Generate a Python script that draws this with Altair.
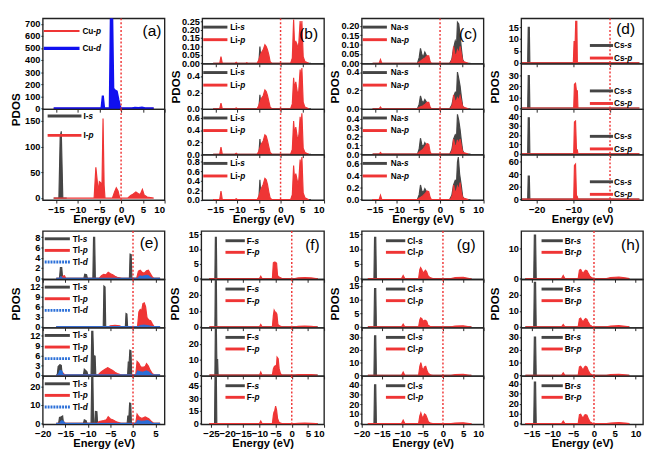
import altair as alt
import pandas as pd

FONT = "Liberation Sans"
GRAY = "#454545"
RED = "#ef3535"
BLUE = "#1010f0"
TLBLUE = "#2a6fd8"

FERMI = [0.0]

# ---------------- (a) CuI ----------------
A1_CU_P = [(-15.5,0),(-2.6,0),(-2.2,4),(-1.5,3),(-0.8,2),(0,0),(7.5,0)]
A1_CU_D = [(-15.5,0),(-4.5,0),(-4.2,105),(-3.9,0),(-2.6,0),(-2.35,780),(-2.05,780),(-1.8,165),(-1.5,150),
           (-1.0,140),(-0.6,70),(-0.25,15),(0,0),(2.5,0),(3.2,5),(4,2),(4.8,6),(5.5,0),(7.5,0)]
A2_I_S = [(-15.5,0),(-14.3,0),(-14.0,120),(-13.75,130),(-13.4,0),(-12.5,0)]
A2_I_P = [(-15.5,0),(-6.2,0),(-5.8,60),(-5.5,35),(-5.25,12),(-5.0,32),(-4.7,30),(-4.4,22),(-4.15,155),(-3.9,25),
          (-3.7,0),(-2.0,0),(-1.5,12),(-1.1,20),(-0.7,14),(-0.3,0),(1.5,0),(2.2,5),(2.8,8),(3.4,12),(3.9,9),
          (4.4,7),(4.9,17),(5.3,6),(6.0,2),(7.5,0)]
A1_YTICKS = [0,100,200,300,400,500,600,700]
A2_YTICKS = [0,50,100,150]

# ---------------- (b) Li ----------------
B1_S = [(-15.5,0),(-5.0,0),(-4.75,0.10),(-4.5,0.02),(-4.0,0.02),(-3.6,0.035),(-3.2,0.04),(-2.8,0.01),(-2.4,0),
        (2.5,0),(3.0,0.05),(3.5,0.12),(3.8,0.05),(4.3,0.12),(4.6,0.05),(5.0,0),(7,0)]
B1_P = [(-15.5,0),(-14.0,0),(-13.7,0.04),(-13.4,0),(-10.5,0),(-10.2,0.006),(-9.9,0),(-8,0),(-7.8,0.004),(-7.5,0),
        (-5.4,0),(-5.0,0.02),(-4.5,0.06),(-4.0,0.08),(-3.6,0.11),(-3.3,0.10),(-3.0,0.08),(-2.7,0.05),(-2.4,0.01),
        (-2.0,0),(2.3,0),(2.7,0.03),(3.0,0.26),(3.2,0.12),(3.5,0.13),(3.8,0.11),(4.1,0.08),(4.5,0.25),(4.7,0.18),
        (4.9,0.25),(5.2,0.04),(5.6,0.01),(6.5,0)]
B2_S = [(-15.5,0),(-5.0,0),(-4.75,0.17),(-4.5,0.03),(-4.0,0.04),(-3.6,0.06),(-3.2,0.08),(-2.8,0.02),(-2.4,0),
        (2.5,0),(3.0,0.08),(3.5,0.20),(3.8,0.08),(4.3,0.22),(4.6,0.08),(5.0,0),(7,0)]
B2_P = [(-15.5,0),(-14.0,0),(-13.7,0.07),(-13.4,0),(-10.5,0),(-10.2,0.01),(-9.9,0),(-5.4,0),(-5.0,0.04),
        (-4.5,0.12),(-4.0,0.16),(-3.6,0.23),(-3.3,0.21),(-3.0,0.16),(-2.7,0.09),(-2.4,0.02),(-2.0,0),(2.3,0),
        (2.7,0.06),(3.0,0.38),(3.2,0.25),(3.5,0.33),(3.8,0.22),(4.1,0.15),(4.5,0.48),(4.7,0.35),(4.9,0.50),
        (5.2,0.08),(5.6,0.02),(6.5,0)]
B3_S = [(-15.5,0),(-5.0,0),(-4.75,0.25),(-4.5,0.04),(-4.0,0.05),(-3.6,0.09),(-3.2,0.12),(-2.8,0.03),(-2.4,0),
        (2.5,0),(3.0,0.12),(3.5,0.30),(3.8,0.12),(4.3,0.32),(4.6,0.12),(5.0,0),(7,0)]
B3_P = [(-15.5,0),(-14.0,0),(-13.7,0.12),(-13.4,0),(-10.5,0),(-10.2,0.015),(-9.9,0),(-5.4,0),(-5.0,0.05),
        (-4.5,0.16),(-4.0,0.22),(-3.6,0.32),(-3.3,0.30),(-3.0,0.22),(-2.7,0.12),(-2.4,0.03),(-2.0,0),(2.3,0),
        (2.7,0.08),(3.0,0.55),(3.2,0.35),(3.5,0.45),(3.8,0.30),(4.1,0.20),(4.5,0.62),(4.7,0.45),(4.9,0.68),
        (5.2,0.10),(5.6,0.03),(6.5,0)]
B4_S = [(-15.5,0),(-5.0,0),(-4.75,0.42),(-4.5,0.06),(-4.0,0.08),(-3.6,0.14),(-3.2,0.20),(-2.8,0.05),(-2.4,0),
        (2.5,0),(3.0,0.18),(3.5,0.40),(3.8,0.16),(4.3,0.42),(4.6,0.16),(5.0,0),(7,0)]
B4_P = [(-15.5,0),(-14.0,0),(-13.7,0.18),(-13.4,0),(-10.5,0),(-10.2,0.02),(-9.9,0),(-5.4,0),(-5.0,0.07),
        (-4.5,0.22),(-4.0,0.32),(-3.6,0.45),(-3.3,0.42),(-3.0,0.32),(-2.7,0.16),(-2.4,0.04),(-2.0,0),(2.3,0),
        (2.7,0.10),(3.0,0.72),(3.2,0.45),(3.5,0.55),(3.8,0.42),(4.1,0.28),(4.5,0.85),(4.7,0.60),(4.9,0.90),
        (5.2,0.14),(5.6,0.04),(6.5,0)]
B1_YTICKS = [0.0,0.05,0.10,0.15,0.20,0.25]
B2_YTICKS = [0.0,0.2,0.4]
B3_YTICKS = [0.0,0.2,0.4,0.6]
B4_YTICKS = [0.0,0.2,0.4,0.6,0.8]

# ---------------- (c) Na ----------------
C1_S = [(-15.5,0),(-5.2,0),(-4.8,0.03),(-4.5,0.08),(-4.2,0.05),(-3.9,0.03),(-3.5,0.06),(-3.1,0.04),(-2.7,0.02),
        (-2.3,0),(2.2,0),(2.7,0.02),(3.1,0.08),(3.5,0.12),(3.8,0.10),(4.0,0.22),(4.3,0.21),(4.6,0.15),(4.9,0.08),
        (5.2,0.02),(5.6,0),(7,0)]
C1_P = [(-15.5,0),(-14.0,0),(-13.7,0.02),(-13.4,0),(-5.2,0),(-4.6,0.01),(-4.0,0.02),(-3.4,0.03),(-3.0,0.04),
        (-2.6,0.04),(-2.3,0.01),(-2.0,0),(2.4,0),(2.9,0.03),(3.1,0.09),(3.4,0.05),(3.7,0.04),(4.0,0.07),(4.3,0.05),
        (4.6,0.09),(4.9,0.05),(5.2,0.01),(6.5,0)]
C2_S = [(-15.5,0),(-5.2,0),(-4.8,0.05),(-4.5,0.14),(-4.2,0.09),(-3.9,0.06),(-3.5,0.10),(-3.1,0.07),(-2.7,0.03),
        (-2.3,0),(2.2,0),(2.7,0.04),(3.1,0.13),(3.5,0.18),(3.8,0.16),(4.0,0.40),(4.3,0.33),(4.6,0.25),(4.9,0.13),
        (5.2,0.03),(5.6,0),(7,0)]
C2_P = [(-15.5,0),(-14.0,0),(-13.7,0.02),(-13.4,0),(-5.2,0),(-4.6,0.02),(-4.0,0.03),(-3.4,0.05),(-3.0,0.07),
        (-2.6,0.07),(-2.3,0.02),(-2.0,0),(2.4,0),(2.9,0.05),(3.1,0.15),(3.4,0.09),(3.7,0.08),(4.0,0.12),(4.3,0.09),
        (4.6,0.14),(4.9,0.08),(5.2,0.02),(6.5,0)]
C3_S = [(-15.5,0),(-5.2,0),(-4.8,0.06),(-4.5,0.18),(-4.2,0.11),(-3.9,0.08),(-3.5,0.13),(-3.1,0.09),(-2.7,0.04),
        (-2.3,0),(2.2,0),(2.7,0.05),(3.1,0.17),(3.5,0.22),(3.8,0.20),(4.0,0.45),(4.3,0.38),(4.6,0.28),(4.9,0.15),
        (5.2,0.04),(5.6,0),(7,0)]
C3_P = [(-15.5,0),(-14.0,0),(-13.7,0.02),(-13.4,0),(-5.2,0),(-4.6,0.03),(-4.0,0.05),(-3.4,0.09),(-3.0,0.12),
        (-2.6,0.11),(-2.3,0.03),(-2.0,0),(2.4,0),(2.9,0.06),(3.1,0.17),(3.4,0.10),(3.7,0.09),(4.0,0.16),(4.3,0.11),
        (4.6,0.17),(4.9,0.09),(5.2,0.02),(6.5,0)]
C4_S = [(-15.5,0),(-5.2,0),(-4.8,0.08),(-4.5,0.24),(-4.2,0.15),(-3.9,0.11),(-3.5,0.18),(-3.1,0.13),(-2.7,0.05),
        (-2.3,0),(2.2,0),(2.7,0.07),(3.1,0.24),(3.5,0.32),(3.8,0.30),(4.0,0.62),(4.2,0.70),(4.5,0.42),(4.9,0.22),
        (5.2,0.05),(5.6,0),(7,0)]
C4_P = [(-15.5,0),(-14.0,0),(-13.7,0.07),(-13.4,0),(-5.2,0),(-4.6,0.03),(-4.0,0.06),(-3.4,0.10),(-3.0,0.14),
        (-2.6,0.13),(-2.3,0.04),(-2.0,0),(2.4,0),(2.9,0.08),(3.1,0.24),(3.4,0.14),(3.7,0.13),(4.0,0.22),(4.3,0.16),
        (4.6,0.28),(4.9,0.12),(5.2,0.03),(6.5,0)]
C1_YTICKS = [0.0,0.05,0.10,0.15,0.20]
C2_YTICKS = [0.0,0.2,0.4]
C3_YTICKS = [0.0,0.1,0.2,0.3,0.4]
C4_YTICKS = [0.0,0.2,0.4,0.6]

# ---------------- (d) Cs ----------------
D1_S = [(-24,0),(-22.45,0),(-22.3,15),(-22.0,15),(-21.85,0),(8,0)]
D1_P = [(-24,0),(-10.0,0),(-9.8,9),(-9.5,9),(-9.35,17.5),(-9.05,17.5),(-8.9,0),(8,0)]
D2_S = [(-24,0),(-22.45,0),(-22.3,30),(-22.0,30),(-21.85,0),(8,0)]
D2_P = [(-24,0),(-9.9,0),(-9.7,22),(-9.4,23),(-9.15,16),(-8.9,16),(-8.75,0),(8,0)]
D3_S = [(-24,0),(-22.45,0),(-22.3,38.5),(-22.0,38.5),(-21.85,0),(8,0)]
D3_P = [(-24,0),(-9.9,0),(-9.7,34),(-9.4,35),(-9.15,5),(-8.9,4),(-8.75,0),(8,0)]
D4_S = [(-24,0),(-22.45,0),(-22.3,37),(-22.0,37),(-21.85,0),(8,0)]
D4_P = [(-24,0),(-9.9,0),(-9.7,54),(-9.4,56),(-9.15,6),(-8.9,4),(-8.75,0),(8,0)]
D1_YTICKS = [0,5,10,15]
D2_YTICKS = [0,10,20,30]
D3_YTICKS = [0,10,20,30,40]
D4_YTICKS = [0,20,40,60]

# ---------------- (e) Tl ----------------
E1_S = [(-17,0),(-16.3,0),(-16.1,2.1),(-15.8,2.1),(-15.6,0),(-10.9,0),(-10.7,0.8),(-10.3,0.7),(-10.1,0),
        (-8.9,0),(-8.75,8),(-8.5,8),(-8.35,0),(-0.8,0),(-0.65,4.7),(-0.4,4.6),(-0.25,0),(6,0)]
E1_P = [(-17,0),(-16.0,0),(-15.6,0.4),(-15.2,0.5),(-14.9,0),(-7.5,0),(-7.0,0.5),(-6.5,0.8),(-6.0,0.7),(-5.5,1.2),
        (-5.0,0.9),(-4.5,0.7),(-4.0,0.4),(-3.5,0.2),(-2.5,0),(0.8,0),(1.2,1.4),(1.6,1.6),(2.0,1.2),(2.5,1.0),
        (3.0,1.5),(3.4,1.6),(3.8,1.0),(4.2,0.4),(4.6,0),(6,0)]
E1_D = [(-17,0),(-16.3,0),(-16.0,0.4),(-15.6,0),(1.0,0),(1.5,0.5),(2.0,0.4),(3.0,0.6),(3.5,0.5),(4.2,0),(6,0)]
E2_S = [(-17,0),(-6.6,0),(-6.45,12.3),(-6.2,12.0),(-6.05,0),(-1.7,0),(-1.55,4.0),(-1.35,3.8),(-1.2,0),(6,0)]
E2_P = [(-17,0),(-5.5,0),(-5.0,0.3),(-4.0,0.4),(-3.0,0.3),(-2.5,0),(1.0,0),(1.3,4.5),(1.6,5.2),(1.9,4.8),
        (2.2,7.0),(2.5,7.2),(2.8,6.0),(3.1,2.8),(3.5,2.0),(3.9,1.8),(4.3,0.8),(4.7,0),(6,0)]
E2_D = [(-17,0),(1.2,0),(1.6,0.4),(2.5,0.5),(3.5,0.3),(4.4,0),(6,0)]
E3_S = [(-17,0),(-16.8,0),(-16.6,2.6),(-16.2,3.2),(-15.9,3.0),(-15.7,0),(-11.0,0),(-10.8,1.8),(-10.5,1.4),
        (-10.2,1.0),(-10.0,0),(-9.3,0),(-9.15,13.4),(-8.9,13.4),(-8.75,6.0),(-8.4,5.8),(-8.25,0),(-1.2,0),
        (-1.05,4.0),(-0.85,4.0),(-0.7,7.6),(-0.45,7.4),(-0.3,0),(6,0)]
E3_P = [(-17,0),(-16.3,0),(-15.9,0.8),(-15.5,0.6),(-15.1,0),(-7.8,0),(-7.2,0.8),(-6.7,1.3),(-6.2,1.8),(-5.6,2.3),
        (-5.0,1.8),(-4.5,1.4),(-4.0,0.9),(-3.5,0.5),(-2.5,0),(0.6,0),(0.9,4.2),(1.3,3.6),(1.7,2.5),(2.2,2.4),
        (2.7,2.6),(3.0,3.5),(3.4,2.8),(3.8,1.5),(4.3,0.4),(4.8,0),(6,0)]
E3_D = [(-17,0),(-16.6,0),(-16.2,1.5),(-15.8,1.3),(-15.4,0),(0.7,0),(1.0,1.3),(1.6,1.0),(2.2,0.9),(3.0,1.3),
        (3.6,0.9),(4.4,0),(6,0)]
E4_S = [(-17,0),(-16.5,0),(-16.3,3.2),(-15.9,3.6),(-15.6,4.0),(-15.4,0),(-11.0,0),(-10.8,2.0),(-10.4,1.5),
        (-10.2,0),(-9.3,0),(-9.15,25.5),(-8.9,25.5),(-8.75,0),(-8.5,0),(-8.35,6.5),(-8.0,6.3),(-7.85,0),
        (-1.3,0),(-1.15,4.0),(-0.9,4.0),(-0.75,11.0),(-0.5,10.8),(-0.35,0),(6,0)]
E4_P = [(-17,0),(-16.2,0),(-15.8,1.0),(-15.3,0.8),(-15.0,0),(-8.0,0),(-7.5,1.0),(-7.0,1.3),(-6.5,1.6),(-5.9,2.0),
        (-5.5,3.6),(-5.0,2.4),(-4.5,2.0),(-4.0,1.3),(-3.5,0.7),(-2.5,0),(0.6,0),(0.9,5.0),(1.3,3.6),(1.8,2.8),
        (2.3,3.0),(2.7,3.5),(3.1,3.0),(3.5,2.6),(3.9,1.5),(4.4,0.4),(4.8,0),(6,0)]
E4_D = [(-17,0),(-16.3,0),(-15.9,1.5),(-15.4,1.2),(-15.0,0),(0.7,0),(1.0,1.6),(1.8,1.2),(2.6,1.3),(3.2,1.6),
        (3.8,1.0),(4.4,0),(6,0)]
E1_YTICKS = [0,2,4,6,8]
E2_YTICKS = [0,3,6,9,12]
E3_YTICKS = [0,3,6,9,12]
E4_YTICKS = [0,10,20]

# ---------------- (f) F ----------------
F1_S = [(-25.5,0),(-23.8,0),(-23.65,14),(-23.35,14),(-23.2,0),(8,0)]
F2_S = [(-25.5,0),(-23.8,0),(-23.65,32),(-23.35,32),(-23.2,0),(8,0)]
F3_S = [(-25.5,0),(-23.8,0),(-23.65,32),(-23.35,32),(-23.2,10),(-22.95,10),(-22.8,0),(8,0)]
F4_S = [(-25.5,0),(-23.9,0),(-23.75,60),(-23.35,60),(-23.2,0),(8,0)]
F1_P = [(-25.5,0),(-10.0,0),(-9.6,0.8),(-9.2,0),(-6.0,0),(-5.7,5.3),(-5.4,5.6),(-5.0,5.5),(-4.7,5.2),(-4.4,1.0),
        (-3.8,0.4),(-3.0,0),(1.0,0),(2.0,0.2),(4.0,0.3),(6.0,0.2),(7.5,0),(8,0)]
F2_P = [(-25.5,0),(-10.0,0),(-9.6,1.5),(-9.2,0),(-6.0,0),(-5.7,7.0),(-5.45,10.5),(-5.2,9.5),(-4.9,9.0),
        (-4.6,8.0),(-4.3,1.5),(-3.8,0.6),(-3.0,0),(1.0,0),(2.0,0.3),(4.0,0.4),(6.0,0.3),(7.5,0),(8,0)]
F3_P = [(-25.5,0),(-10.0,0),(-9.6,2.0),(-9.2,0),(-6.0,0),(-5.7,4.0),(-5.4,5.5),(-5.1,6.0),(-4.8,4.0),
        (-4.55,11.5),(-4.2,10.5),(-3.9,4.0),(-3.5,1.0),(-3.0,0),(1.0,0),(2.0,0.3),(4.0,0.4),(6.0,0.3),(7.5,0),(8,0)]
F4_P = [(-25.5,0),(-10.0,0),(-9.6,3.0),(-9.2,0),(-6.0,0),(-5.7,10.0),(-5.5,14.0),(-5.3,15.0),(-5.0,21.0),
        (-4.7,16.0),(-4.4,6.0),(-4.0,2.0),(-3.5,0.5),(-3.0,0),(1.0,0),(2.0,0.4),(4.0,0.6),(6.0,0.4),(7.5,0),(8,0)]
F1_YTICKS = [0,5,10,15]
F2_YTICKS = [0,10,20]
F3_YTICKS = [0,10,20]
F4_YTICKS = [0,15,30,45]

# ---------------- (g) Cl ----------------
G1_S = [(-18.5,0),(-17.0,0),(-16.85,14),(-16.55,14),(-16.4,0),(7,0)]
G2_S = [(-18.5,0),(-17.0,0),(-16.85,14),(-16.55,14),(-16.4,0),(7,0)]
G3_S = [(-18.5,0),(-17.0,0),(-16.85,31),(-16.55,31),(-16.4,0),(7,0)]
G4_S = [(-18.5,0),(-17.0,0),(-16.85,40),(-16.55,40),(-16.4,0),(7,0)]
G1_P = [(-18.5,0),(-10.2,0),(-9.8,1.0),(-9.4,0),(-6.0,0),(-5.7,3.0),(-5.5,3.7),(-5.2,3.0),(-4.9,1.8),(-4.6,2.3),
        (-4.3,2.8),(-4.0,2.2),(-3.7,1.0),(-3.2,0.3),(-2.5,0),(2,0),(3,0.3),(5,0.4),(6.5,0),(7,0)]
G2_P = [(-18.5,0),(-10.2,0),(-9.8,1.0),(-9.4,0),(-6.0,0),(-5.7,2.6),(-5.5,3.3),(-5.2,3.0),(-4.9,2.0),(-4.6,2.4),
        (-4.3,2.4),(-4.0,2.0),(-3.7,0.6),(-3.2,0.2),(-2.5,0),(2,0),(3,0.3),(5,0.4),(6.5,0),(7,0)]
G3_P = [(-18.5,0),(-10.2,0),(-9.8,2.5),(-9.4,0),(-6.0,0),(-5.7,7.0),(-5.45,10.0),(-5.15,6.0),(-4.85,4.0),
        (-4.55,6.5),(-4.25,7.0),(-3.95,4.0),(-3.6,1.5),(-3.1,0.4),(-2.5,0),(2,0),(3,0.5),(5,0.7),(6.5,0),(7,0)]
G4_P = [(-18.5,0),(-10.2,0),(-9.8,3.5),(-9.4,0),(-6.0,0),(-5.7,8.0),(-5.45,11.0),(-5.15,7.0),(-4.85,6.0),
        (-4.55,10.0),(-4.25,9.0),(-3.95,6.0),(-3.6,2.0),(-3.1,0.5),(-2.5,0),(2,0),(3,0.6),(5,0.9),(6.5,0),(7,0)]
G1_YTICKS = [0,5,10,15]
G2_YTICKS = [0,5,10,15]
G3_YTICKS = [0,10,20,30]
G4_YTICKS = [0,10,20,30,40]

# ---------------- (h) Br ----------------
H1_S = [(-16.5,0),(-14.5,0),(-14.35,14.5),(-14.05,14.5),(-13.9,0),(8.5,0)]
H2_S = [(-16.5,0),(-14.5,0),(-14.35,28),(-14.05,28),(-13.9,0),(8.5,0)]
H3_S = [(-16.5,0),(-14.5,0),(-14.35,30),(-14.05,30),(-13.9,0),(8.5,0)]
H4_S = [(-16.5,0),(-14.5,0),(-14.35,42),(-14.05,42),(-13.9,0),(8.5,0)]
H1_P = [(-16.5,0),(-7.8,0),(-7.4,1.0),(-7.0,0),(-3.8,0),(-3.5,2.8),(-3.2,3.0),(-2.9,2.2),(-2.6,1.6),(-2.3,2.4),
        (-2.0,2.8),(-1.7,2.6),(-1.4,1.8),(-1.0,0.8),(-0.5,0.2),(0,0),(3,0),(4,0.3),(6,0.5),(7.5,0.2),(8.5,0)]
H2_P = [(-16.5,0),(-7.8,0),(-7.4,1.5),(-7.0,0),(-3.8,0),(-3.5,5.0),(-3.2,5.5),(-2.9,4.0),(-2.6,3.0),(-2.3,4.5),
        (-2.0,5.2),(-1.7,4.6),(-1.4,3.0),(-1.0,1.2),(-0.5,0.3),(0,0),(3,0),(4,0.4),(6,0.7),(7.5,0.3),(8.5,0)]
H3_P = [(-16.5,0),(-7.8,0),(-7.4,2.0),(-7.0,0),(-3.8,0),(-3.5,6.5),(-3.2,7.0),(-2.9,5.5),(-2.6,4.0),(-2.3,6.5),
        (-2.0,7.2),(-1.7,6.5),(-1.4,4.0),(-1.0,1.5),(-0.5,0.4),(0,0),(3,0),(4,0.5),(6,0.8),(7.5,0.3),(8.5,0)]
H4_P = [(-16.5,0),(-7.8,0),(-7.4,2.5),(-7.0,0),(-3.8,0),(-3.5,9.0),(-3.2,9.5),(-2.9,7.0),(-2.6,5.5),(-2.3,8.5),
        (-2.0,9.0),(-1.7,8.5),(-1.4,5.5),(-1.0,2.0),(-0.5,0.5),(0,0),(3,0),(4,0.6),(6,1.0),(7.5,0.4),(8.5,0)]
H1_YTICKS = [0,10]
H2_YTICKS = [0,10,20]
H3_YTICKS = [0,10,20,30]
H4_YTICKS = [0,10,20,30,40]

# x tick labels
X_TICKS_ABC = [-15,-10,-5,0,5,10]
X_TICKS_D = [-20,-10,0]
X_TICKS_E = [-20,-15,-10,-5,0,5]
X_TICKS_F = [-25,-20,-15,-10,-5,0,5,10]
X_TICKS_G = [-20,-15,-10,-5,0,5,10]
X_TICKS_H = [-15,-10,-5,0,5,10]

# legend names (prefix, italic suffix)
LEG_A1 = [("Cu-","p"),("Cu-","d")]
LEG_A2 = [("I-","s"),("I-","p")]
LEG_B = [("Li-","s"),("Li-","p")]
LEG_C = [("Na-","s"),("Na-","p")]
LEG_D = [("Cs-","s"),("Cs-","p")]
LEG_E = [("Tl-","s"),("Tl-","p"),("Tl-","d")]
LEG_F = [("F-","s"),("F-","p")]
LEG_G = [("Cl-","s"),("Cl-","p")]
LEG_H = [("Br-","s"),("Br-","p")]
PANEL_LABELS = ["(a)","(b)","(c)","(d)","(e)","(f)","(g)","(h)"]

# ---------------- helpers ----------------
WB = {"L":.611,"i":.278,"-":.333,"N":.722,"a":.556,"C":.722,"s":.556,"u":.611,"T":.611,"l":.278,
      "F":.611,"B":.722,"r":.389,"I":.278}
LEG_FS = 8.5
Y_EXT = 21


def tw(t, size):
    return sum(WB.get(c, 0.6) for c in t) * size


ONE = pd.DataFrame({"a": [0]})
STYLE = {"S": (GRAY, 3, None), "P": (RED, 3, None), "D": (TLBLUE, 3, [2, 1]),
         "CUP": (RED, 2, None), "CUD": (BLUE, 3.5, None)}


def sub(series, xdom, xticks, width, ydom, yticks, yfmt, height, bottom, ytitle,
        leg, legkeys, lx1, lx2, ltx, lys, label=None, title_y=None):
    xs = alt.Scale(domain=xdom, nice=False, zero=False)
    ys = alt.Scale(domain=ydom, nice=False, zero=False)
    if bottom:
        xkw = dict(values=xticks, format="d", title="Energy (eV)", labelFontSize=10,
                   labelFontWeight="bold", labelPadding=2, titleFontSize=11.5,
                   titleFontWeight="bold", titlePadding=-1, tickSize=3, grid=False,
                   domain=False, labelFlush=False, labelOverlap=False)
        if xdom[1] in xticks:
            xkw["labelAlign"] = {"condition": {"test": "datum.value == %g" % xdom[1], "value": "right"},
                                 "value": "center"}
        xa = alt.Axis(**xkw)
    else:
        xa = alt.Axis(values=xticks, title=None, labels=False, tickSize=3, grid=False, domain=False)
    yargs = dict(values=yticks, format=yfmt, labelFontSize=9.5, labelFontWeight="bold",
                 labelPadding=1, tickSize=2, grid=False, domain=False, labelFlush=False,
                 labelOverlap=False, minExtent=Y_EXT, maxExtent=Y_EXT)
    if ytitle:
        yargs.update(title="PDOS", titleFontSize=12, titleFontWeight="bold", titlePadding=0)
        if title_y is not None:
            yargs["titleY"] = title_y
    else:
        yargs["title"] = None
    ya = alt.Axis(**yargs)
    layers = []
    for pts, color, sw in series:
        df = pd.DataFrame(pts, columns=["E", "v"])
        layers.append(
            alt.Chart(df).mark_area(color=color, stroke=color, strokeWidth=sw, opacity=1,
                                    clip=True, interpolate="linear").encode(
                x=alt.X("E:Q", scale=xs, axis=xa),
                y=alt.Y("v:Q", scale=ys, axis=ya),
                y2=alt.datum(0)))
    layers.append(
        alt.Chart(pd.DataFrame({"E": FERMI})).mark_rule(
            color=RED, strokeDash=[2, 2], strokeWidth=1.5).encode(
            x=alt.X("E:Q", scale=xs, axis=xa)))
    for (pre, suf), key, y in zip(leg, legkeys, lys):
        color, sw, dash = STYLE[key]
        rk = dict(color=color, strokeWidth=sw)
        if dash:
            rk["strokeDash"] = dash
        layers.append(alt.Chart(ONE).mark_rule(**rk).encode(
            x=alt.value(lx1), x2=alt.value(lx2), y=alt.value(y)))
        layers.append(alt.Chart(ONE).mark_text(
            text=pre, align="left", baseline="middle", fontSize=LEG_FS, fontWeight="bold",
            font=FONT, color="black").encode(x=alt.value(ltx), y=alt.value(y)))
        layers.append(alt.Chart(ONE).mark_text(
            text=suf, align="left", baseline="middle", fontSize=LEG_FS, fontWeight="bold",
            fontStyle="italic", font=FONT, color="black").encode(
            x=alt.value(ltx + tw(pre, LEG_FS)), y=alt.value(y)))
    if label is not None:
        txt, lxx, lyy = label
        layers.append(alt.Chart(ONE).mark_text(
            text=txt, align="center", baseline="middle", fontSize=16, font=FONT,
            color="black").encode(x=alt.value(lxx), y=alt.value(lyy)))
    return alt.layer(*layers).properties(width=width, height=height)


H1 = 47   # top-row sub-panel height
H2 = 50   # bottom-row sub-panel height
W = 126
XD_ABC = [-18, 10]

# (a)
col_a = alt.vconcat(
    sub([(A1_CU_P, RED, 1.2), (A1_CU_D, BLUE, 2.2)], XD_ABC, X_TICKS_ABC, W, [-8, 746], A1_YTICKS, "d",
        2 * H1, False, True, LEG_A1, ["CUP", "CUD"], 1, 38, 41, [13, 31],
        label=(PANEL_LABELS[0], 113, 13), title_y=2 * H1),
    sub([(A2_I_S, GRAY, 1.2), (A2_I_P, RED, 1.2)], XD_ABC, X_TICKS_ABC, W, [-4, 173], A2_YTICKS, "d",
        2 * H1, True, False, LEG_A2, ["S", "P"], 5, 40, 42, [7, 27]),
    spacing=0, bounds="flush")


def col4(S, P, xd, xt, w, h, doms, ticks, fmts, leg, lx1, lx2, ltx, lys, label, D=None):
    subs = []
    for i in range(4):
        ser = [(S[i], GRAY, 1.2), (P[i], RED, 1.2)]
        keys = ["S", "P"]
        if D is not None:
            ser.append((D[i], TLBLUE, 1.0))
            keys.append("D")
        subs.append(sub(ser, xd, xt, w, doms[i], ticks[i], fmts[i], h, i == 3, i == 1,
                        leg, keys, lx1, lx2, ltx, lys, label=label if i == 0 else None))
    return alt.vconcat(*subs, spacing=0, bounds="flush")


col_b = col4([B1_S, B2_S, B3_S, B4_S], [B1_P, B2_P, B3_P, B4_P], XD_ABC, X_TICKS_ABC, W, H1,
             [[-0.003, 0.266], [-0.006, 0.55], [-0.008, 0.745], [-0.01, 0.95]],
             [B1_YTICKS, B2_YTICKS, B3_YTICKS, B4_YTICKS], [".2f", ".1f", ".1f", ".1f"],
             LEG_B, 1, 26, 29, [9, 22], (PANEL_LABELS[1], 110, 16))
col_c = col4([C1_S, C2_S, C3_S, C4_S], [C1_P, C2_P, C3_P, C4_P], XD_ABC, X_TICKS_ABC, W, H1,
             [[-0.003, 0.24], [-0.006, 0.49], [-0.006, 0.506], [-0.01, 0.74]],
             [C1_YTICKS, C2_YTICKS, C3_YTICKS, C4_YTICKS], [".2f", ".1f", ".1f", ".1f"],
             LEG_C, 1, 26, 30, [9, 22], (PANEL_LABELS[2], 110, 16))
col_d = col4([D1_S, D2_S, D3_S, D4_S], [D1_P, D2_P, D3_P, D4_P], [-24.2, 9.0], X_TICKS_D, W, H1,
             [[-0.4, 18.7], [-1.2, 41], [-1, 47.5], [-1.5, 71]],
             [D1_YTICKS, D2_YTICKS, D3_YTICKS, D4_YTICKS], ["d"] * 4,
             LEG_D, 71, 95, 96, [28, 41], (PANEL_LABELS[3], 108, 11))
col_e = col4([E1_S, E2_S, E3_S, E4_S], [E1_P, E2_P, E3_P, E4_P], [-20, 7], X_TICKS_E, W, H2,
             [[-0.2, 9.2], [-0.3, 14.3], [-0.3, 14.5], [-0.5, 25.5]],
             [E1_YTICKS, E2_YTICKS, E3_YTICKS, E4_YTICKS], ["d"] * 4,
             LEG_E, 2, 28, 31, [8, 20, 32], (PANEL_LABELS[4], 110, 13),
             D=[E1_D, E2_D, E3_D, E4_D])
col_f = col4([F1_S, F2_S, F3_S, F4_S], [F1_P, F2_P, F3_P, F4_P], [-28, 10], X_TICKS_F, 127, H2,
             [[-0.3, 16.1], [-0.6, 29.9], [-0.6, 30.4], [-1, 57]],
             [F1_YTICKS, F2_YTICKS, F3_YTICKS, F4_YTICKS], ["d"] * 4,
             LEG_F, 25, 45, 47, [10, 22], (PANEL_LABELS[5], 115, 15))
col_g = col4([G1_S, G2_S, G3_S, G4_S], [G1_P, G2_P, G3_P, G4_P], [-20, 10], X_TICKS_G, W, H2,
             [[-0.3, 16.1], [-0.3, 17.4], [-0.6, 37.3], [-0.8, 48.9]],
             [G1_YTICKS, G2_YTICKS, G3_YTICKS, G4_YTICKS], ["d"] * 4,
             LEG_G, 25, 45, 47, [10, 22], (PANEL_LABELS[6], 108, 15))
col_h = col4([H1_S, H2_S, H3_S, H4_S], [H1_P, H2_P, H3_P, H4_P], [-17.5, 11.8], X_TICKS_H, W, H2,
             [[-0.3, 15.8], [-0.6, 29.9], [-0.6, 37.3], [-0.8, 48]],
             [H1_YTICKS, H2_YTICKS, H3_YTICKS, H4_YTICKS], ["d"] * 4,
             LEG_H, 21, 43, 45, [10, 22], (PANEL_LABELS[7], 113, 15))

row1 = alt.hconcat(col_a, col_b, col_c, col_d, spacing=2)
row2 = alt.hconcat(col_e, col_f, col_g, col_h, spacing=2)

chart = alt.vconcat(row1, row2, spacing=2,
                    padding={"left": 1, "top": 0, "right": 0, "bottom": 0},
                    background="white").configure_view(
    stroke="#222222", strokeWidth=1.4).configure_axis(
    labelFont=FONT, titleFont=FONT, labelColor="black", titleColor="black", tickColor="#222222")

chart.save("out.html", embed_options={"renderer": "svg", "actions": False})
